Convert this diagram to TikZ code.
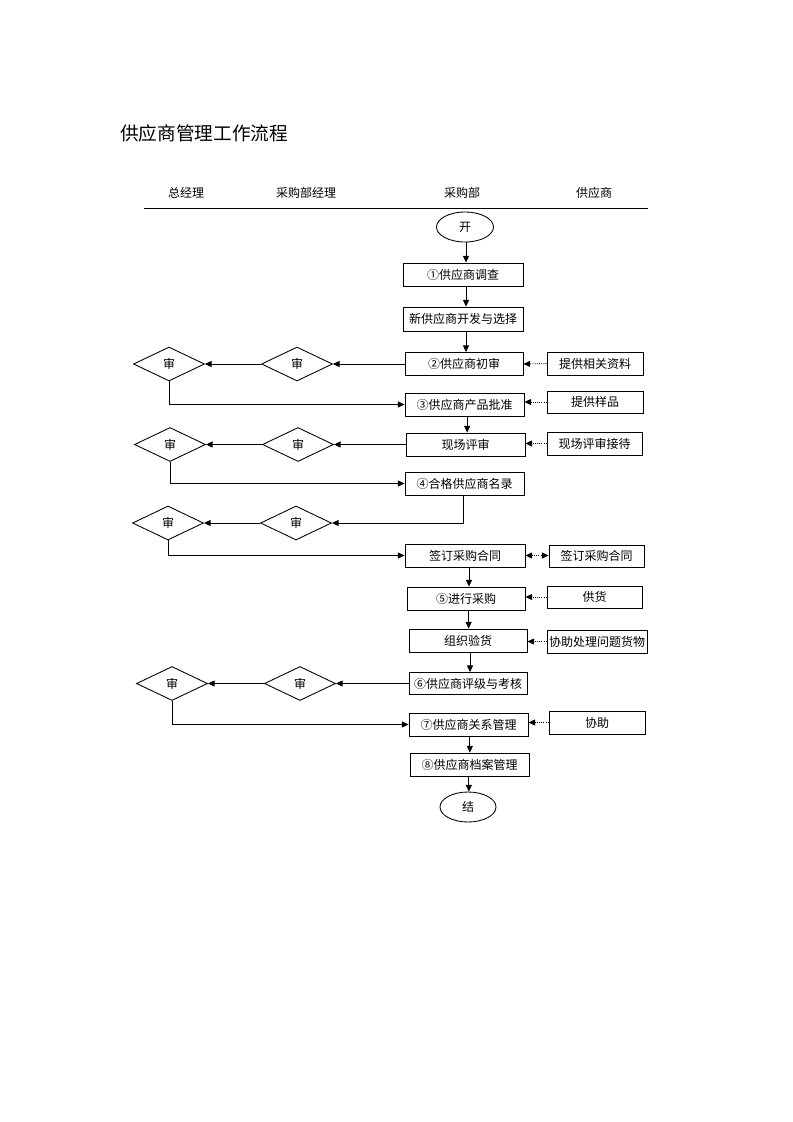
\documentclass[tikz,border=0pt]{standalone}
\usepackage{fontspec}
\setmainfont{Noto Sans CJK SC}
\usetikzlibrary{shapes.geometric,arrows.meta}
\begin{document}
\begin{tikzpicture}[x=0.75pt,y=-0.75pt,
  font=\fontsize{9pt}{11pt}\selectfont,
  box/.style={draw,line width=0.65pt,rectangle,inner sep=0pt,minimum width=#1*0.75pt,minimum height=17.25pt},
  box/.default=119,
  dia/.style={draw,line width=0.65pt,diamond,inner sep=0pt,minimum width=53.25pt,minimum height=25.5pt},
  term/.style={draw,line width=0.65pt,ellipse,inner sep=0pt,minimum width=42.75pt,minimum height=22.5pt},
  arr/.style={line width=0.65pt,-{Triangle[length=5pt,width=4.5pt]}},
  darr/.style={line width=0.65pt,densely dotted,-{Triangle[length=5pt,width=4.5pt]}},
  dbarr/.style={line width=0.65pt,densely dotted,{Triangle[length=5pt,width=4.5pt]}-{Triangle[length=5pt,width=4.5pt]}},
  hdr/.style={inner sep=0pt},
  line/.style={line width=0.65pt}
]
\useasboundingbox (0,0) rectangle (793,1122);

% title
\node[anchor=west,inner sep=0pt,font=\fontsize{14pt}{16pt}\selectfont] (title) at (120,133) {供应商管理工作流程};

% headers
\node[hdr] (h1) at (186,193) {总经理};
\node[hdr] (h2) at (306,193) {采购部经理};
\node[hdr] (h3) at (462,193) {采购部};
\node[hdr] (h4) at (594,193) {供应商};
\coordinate (lineL) at (144,208);
\coordinate (lineR) at (648,208);
\draw[line] (lineL) -- (lineR);

% main column
\node[term] (start) at (465,227) {开};
\node[box=120] (b1) at (463,274.5) {①供应商调查};
\node[box=120,minimum height=18pt] (b2) at (463,319) {新供应商开发与选择};
\node[box=118] (b3) at (464,364) {②供应商初审};
\node[box=119] (b4) at (464.5,404.5) {③供应商产品批准};
\node[box=119] (b5) at (465.5,444.5) {现场评审};
\node[box=119] (b6) at (464.5,483.5) {④合格供应商名录};
\node[box=120] (b7) at (465,555.5) {签订采购合同};
\node[box=118] (b8) at (466,598.5) {⑤进行采购};
\node[box=118] (b9) at (468,640.5) {组织验货};
\node[box=118,minimum height=16.5pt] (b10) at (468,683.5) {⑥供应商评级与考核};
\node[box=119] (b11) at (468.5,724.5) {⑦供应商关系管理};
\node[box=119] (b12) at (469.5,764.5) {⑧供应商档案管理};
\node[term,minimum width=42pt] (end) at (468,807) {结};

% supplier column
\node[box=96] (s1) at (595,363.5) {提供相关资料};
\node[box=96,minimum height=16.5pt] (s2) at (595,402) {提供样品};
\node[box=95] (s3) at (594.5,443.5) {现场评审接待};
\node[box=95,minimum height=16.5pt] (s4) at (596.5,556) {签订采购合同};
\node[box=95,minimum height=16.5pt] (s5) at (594.5,597) {供货};
\node[box=100] (s6) at (597,641.5) {协助处理问题货物};
\node[box=96] (s7) at (597,722.5) {协助};

% diamonds
\node[dia] (r1) at (297,364) {审};
\node[dia] (l1) at (169,364) {审};
\node[dia] (r2) at (298,444.5) {审};
\node[dia] (l2) at (170,444.5) {审};
\node[dia] (r3) at (296,523) {审};
\node[dia] (l3) at (168,523) {审};
\node[dia] (r4) at (300,683.5) {审};
\node[dia] (l4) at (172,683.5) {审};

% vertical arrows
\draw[arr] ([xshift=0.75pt]start.south) -- ([xshift=0.75pt]start.south |- b1.north);
\draw[arr] ([xshift=2.25pt]b1.south) -- ([xshift=2.25pt]b1.south |- b2.north);
\draw[arr] ([xshift=2.25pt]b2.south) -- ([xshift=2.25pt]b2.south |- b3.north);
\draw[arr] ([xshift=2pt]b4.south) -- ([xshift=2pt]b4.south |- b5.north);
\draw[arr] ([xshift=3pt]b7.south) -- ([xshift=3pt]b7.south |- b8.north);
\draw[arr] ([xshift=2pt]b8.south) -- ([xshift=2pt]b8.south |- b9.north);
\draw[arr] ([xshift=1.5pt]b9.south) -- ([xshift=1.5pt]b9.south |- b10.north);
\draw[arr] ([xshift=1pt]b11.south) -- ([xshift=1pt]b11.south |- b12.north);
\draw[arr] ([xshift=-0.5pt]b12.south) -- ([xshift=-0.5pt]b12.south |- end.north);

% supplier dotted arrows
\draw[darr] (s1.west) -- (b3.east);
\draw[darr] (s2.west) -- (s2.west -| b4.east);
\draw[darr] (s3.west) -- (s3.west -| b5.east);
\draw[dbarr] (b7.east) -- (b7.east -| s4.west);
\draw[darr] (s5.west) -- (s5.west -| b8.east);
\draw[darr] (s6.west) -- (s6.west -| b9.east);
\draw[darr] (s7.west) -- (s7.west -| b11.east);

% review rows
\draw[arr] (b3.west) -- (r1.east);
\draw[arr] (r1.west) -- (l1.east);
\draw[arr] (l1.south) |- (b4.west);

\draw[arr] (b5.west) -- (r2.east);
\draw[arr] (r2.west) -- (l2.east);
\draw[arr] (l2.south) |- (b6.west);

\draw[arr] ([xshift=-1pt]b6.south) |- (r3.east);
\draw[arr] (r3.west) -- (l3.east);
\draw[arr] (l3.south) |- (b7.west);

\draw[arr] (b10.west) -- (r4.east);
\draw[arr] (r4.west) -- (l4.east);
\draw[arr] (l4.south) |- (b11.west);
\end{tikzpicture}
\end{document}
